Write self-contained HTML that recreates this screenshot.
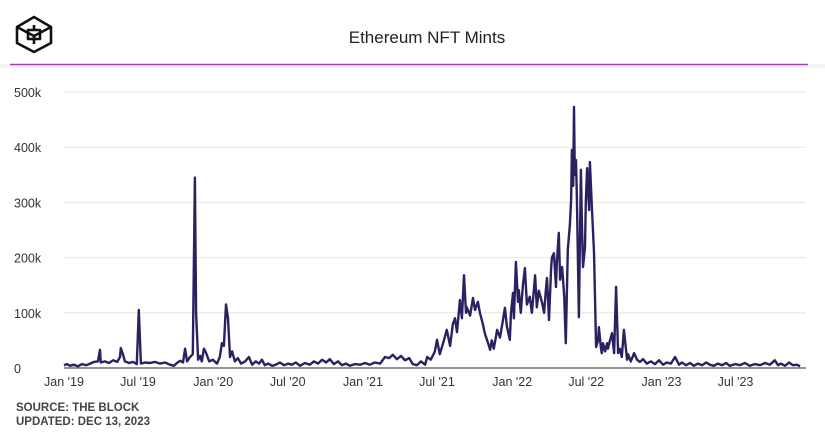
<!DOCTYPE html>
<html><head><meta charset="utf-8"><style>
body{margin:0;background:#fff;font-family:"Liberation Sans",sans-serif;}
#wrap{position:relative;width:825px;height:432px;overflow:hidden;}
</style></head><body>
<div id="wrap">
<svg id="chart" width="825" height="432">
  <g fill="none" stroke="#111" stroke-width="2.6" stroke-linejoin="round">
    <polygon points="34,17 51,27 51,43 34,52 17,43 17,27"/>
    <polyline points="17,27 34,36 51,27"/>
    <line x1="34" y1="36" x2="34" y2="44"/>
    <line x1="34" y1="25" x2="34" y2="30"/>
    <rect x="28" y="30" width="12" height="9"/>
  </g>
  <text x="427" y="43" text-anchor="middle" font-size="17" fill="#222">Ethereum NFT Mints</text>
  <rect x="0" y="64" width="825" height="4" fill="#f4f4f4"/>
  <line x1="10" y1="64.5" x2="808" y2="64.5" stroke="#a040c0" stroke-width="1.5"/>
  <g id="grid"></g><g id="yt"></g><g id="xt"></g><g id="series"></g>
  <text x="16" y="411" font-size="11.5" font-weight="bold" fill="#444">SOURCE: THE BLOCK</text>
  <text x="16" y="425" font-size="11.5" font-weight="bold" fill="#444">UPDATED: DEC 13, 2023</text>
</svg>
</div>
<script>
const yTicks=[0,100,200,300,400,500];
const yTickLabels=["0","100k","200k","300k","400k","500k"];
const xTickDays=[0,181,365,547,731,912,1096,1277,1461,1642];
const xTickLabels=["Jan '19","Jul '19","Jan '20","Jul '20","Jan '21","Jul '21","Jan '22","Jul '22","Jan '23","Jul '23"];
// days since 2019-01-01
const days=[0,7,15,24,34,44,54,64,73,83,88,90,100,110,120,130,137,139,144,149,
159,169,178,183,188,198,210,222,235,247,259,269,276,284,291,296,301,308,315,320,
323,328,333,337,342,347,355,364,374,381,386,391,396,401,406,411,418,425,433,443,
452,460,469,477,484,491,499,509,518,528,538,548,557,567,577,589,601,611,621,631,
641,650,660,670,680,689,699,711,724,736,748,760,773,785,795,804,814,824,834,844,
853,863,873,883,888,897,907,912,919,927,936,944,951,956,961,968,973,978,983,985,
993,1000,1005,1012,1017,1024,1029,1037,1042,1046,1051,1059,1066,1073,1078,1083,1090,1093,1098,1100,
1105,1110,1112,1117,1122,1127,1132,1139,1144,1152,1156,1161,1169,1174,1178,1181,1186,1191,1193,1198,
1203,1205,1210,1213,1218,1223,1227,1232,1237,1240,1242,1245,1247,1249,1252,1254,1259,1264,1266,1269,
1274,1276,1279,1284,1286,1291,1296,1301,1306,1308,1313,1315,1318,1323,1328,1330,1335,1340,1345,1350,
1355,1359,1364,1369,1377,1379,1386,1394,1401,1408,1416,1425,1435,1445,1455,1465,1474,1484,1494,1504,
1511,1521,1531,1540,1550,1560,1570,1579,1589,1599,1609,1619,1628,1641,1653,1665,1677,1689,1702,1714,
1726,1738,1746,1753,1763,1773,1782,1792,1800,1807];
// thousands of mints
const mints=[5,7,4,6,3,7,5,8,11,12,33,10,12,9,14,11,20,36,25,12,
9,11,7,105,8,10,9,11,8,10,6,4,9,13,10,35,12,20,25,345,
100,15,22,12,35,28,12,15,8,20,45,40,115,90,20,30,12,18,8,12,
20,6,12,8,15,5,8,4,6,10,5,8,6,10,4,9,6,12,8,15,
10,16,7,12,5,8,4,7,6,9,6,10,8,20,18,24,16,22,14,18,
7,5,12,6,20,15,30,51,25,45,69,40,80,90,65,123,90,168,100,110,
95,127,105,120,100,80,63,45,33,50,35,69,55,85,109,75,51,100,136,90,
192,120,141,100,150,181,115,129,100,168,110,140,118,100,140,163,87,180,200,208,
147,190,245,160,183,130,45,214,260,304,395,330,473,350,377,317,92,359,280,183,
219,300,362,286,373,286,210,38,50,74,35,27,45,30,45,35,50,63,27,147,
27,35,20,69,15,25,12,27,15,11,16,8,12,7,14,6,10,8,20,6,
10,5,9,4,8,5,10,6,4,8,5,9,4,7,5,9,4,7,5,9,
6,14,5,8,4,10,5,6,3];
const X0=64,X1=803,Y0=368,YPX=0.552,DMAX=1807;
function xs(d){return X0+d/DMAX*(X1-X0);}
function ys(v){return Y0-v*YPX;}
const ns="http://www.w3.org/2000/svg";
const g=document.getElementById('grid'),yt=document.getElementById('yt'),xt=document.getElementById('xt'),se=document.getElementById('series');
yTicks.forEach((v,i)=>{
  const l=document.createElementNS(ns,'line');
  l.setAttribute('x1',X0);l.setAttribute('x2',806);l.setAttribute('y1',ys(v));l.setAttribute('y2',ys(v));
  l.setAttribute('stroke',v===0?'#555':'#e6e6e6');l.setAttribute('stroke-width',v===0?1.2:1);
  
  
  g.appendChild(l);
  const t=document.createElementNS(ns,'text');
  t.setAttribute('x',14);t.setAttribute('y',ys(v)+5);t.setAttribute('font-size','12.5');t.setAttribute('fill','#333');
  t.textContent=yTickLabels[i];
  
  
  yt.appendChild(t);
});
xTickDays.forEach((d,i)=>{
  const t=document.createElementNS(ns,'text');
  t.setAttribute('x',xs(d));t.setAttribute('y',386);t.setAttribute('font-size','12.5');t.setAttribute('fill','#333');t.setAttribute('text-anchor','middle');
  t.textContent=xTickLabels[i];
  
  
  xt.appendChild(t);
});
const n=Math.min(days.length,mints.length);
let d='';
for(let i=0;i<n;i++){d+=(i?'L':'M')+xs(days[i]).toFixed(1)+','+ys(mints[i]).toFixed(1);}
const p=document.createElementNS(ns,'path');
p.setAttribute('d',d);
p.setAttribute('fill','none');p.setAttribute('stroke','#2b2160');p.setAttribute('stroke-width','2.4');p.setAttribute('stroke-linejoin','round');


se.appendChild(p);
</script>
</body></html>
